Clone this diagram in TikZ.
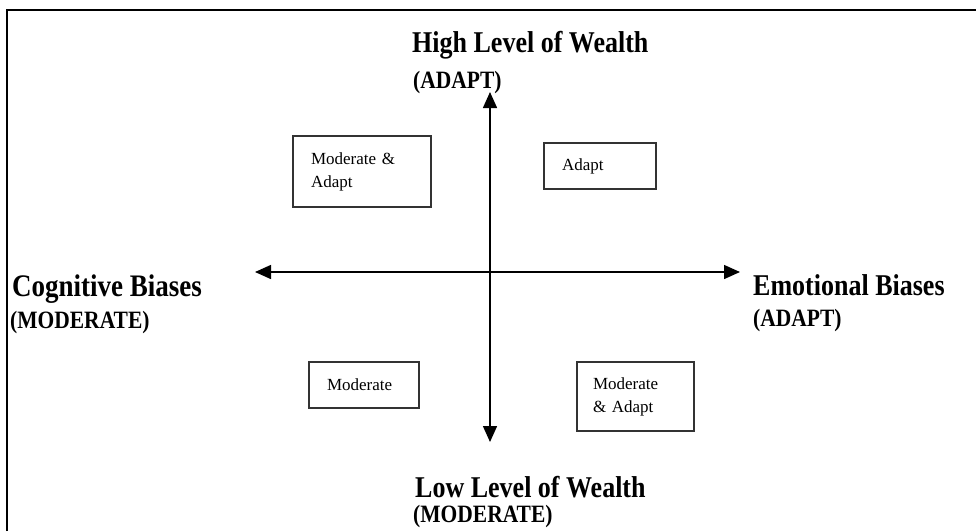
\documentclass[tikz,border=0pt]{standalone}
\usepackage{fontspec}
\setmainfont{Liberation Serif}
\usepackage{graphicx}
\usetikzlibrary{arrows.meta}
\newcommand{\tallbf}[1]{\scalebox{1}[1.16]{\bfseries #1}}

\begin{document}
\begin{tikzpicture}[
    x=1pt, y=-1pt,
    title/.style={anchor=base west, inner sep=0pt, font=\fontsize{26}{30}\selectfont},
    sub/.style={anchor=base west, inner sep=0pt, font=\fontsize{21.5}{25}\selectfont},
    box/.style={rectangle, draw=black!80, line width=1.5pt, inner xsep=18pt, inner ysep=0pt, align=left, font=\fontsize{17}{23}\selectfont},
    axis/.style={{Triangle[length=16pt,width=14pt]}-{Triangle[length=16pt,width=14pt]}, line width=1.5pt}
]
    \useasboundingbox (0,0) rectangle (976,531);

    % Frame
    \draw[line width=2pt] (7,531) -- (7,10) -- (976,10);

    % Axes
    \coordinate (top) at (490,92);
    \coordinate (bot) at (490,442);
    \coordinate (west) at (255,272);
    \coordinate (east) at (740,272);
    \draw[axis] (west) -- (east);
    \draw[axis] (top) -- (bot);

    % Axis labels
    \node[title] (high) at (412,52) {\tallbf{High Level of Wealth}};
    \node[sub] (highsub) at (413,88) {\tallbf{(ADAPT)}};
    \node[title, font=\fontsize{27}{30}\selectfont] (cog) at (12,296) {\tallbf{Cognitive Biases}};
    \node[sub] (cogsub) at (10,328) {\tallbf{(MODERATE)}};
    \node[title] (emo) at (753,295) {\tallbf{Emotional Biases}};
    \node[sub] (emosub) at (753,326) {\tallbf{(ADAPT)}};
    \node[title] (low) at (415,497) {\tallbf{Low Level of Wealth}};
    \node[sub] (lowsub) at (413,522) {\tallbf{(MODERATE)}};

    % Quadrant boxes
    \node[box, text width=102pt, minimum height=71pt] (modadapt) at (362,171.5) {Moderate \&\\Adapt};
    \node[box, text width=76pt, minimum height=46pt] (adapt) at (600,166) {Adapt};
    \node[box, text width=74pt, minimum height=46pt] (moderate) at (364,385) {Moderate};
    \node[box, inner xsep=16pt, text width=85pt, minimum height=69pt] (modadapt2) at (635.5,396.5) {Moderate\\\& Adapt};
\end{tikzpicture}
\end{document}
